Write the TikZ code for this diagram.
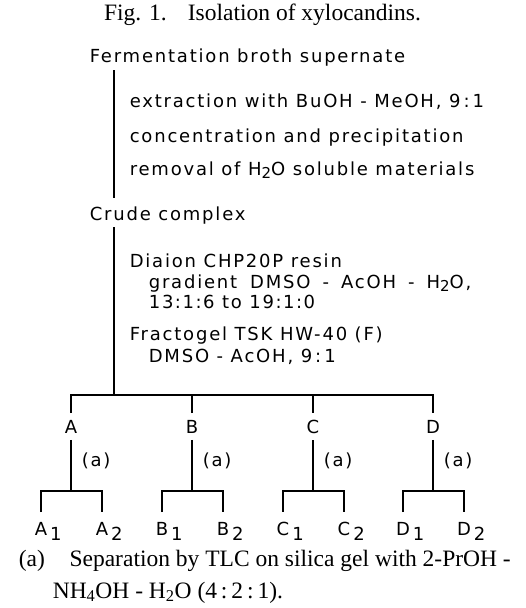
\documentclass[tikz,border=0pt]{standalone}
\usepackage{fontspec}
\setmainfont{Liberation Serif}
\newfontfamily\dg[LetterSpace=10]{DejaVu Sans}
\newcommand\lowsub[1]{\raisebox{-3pt}{\fontsize{15}{15}\selectfont #1}}
\newcommand\lowlab[1]{\rlap{\hspace{3pt}\raisebox{-5pt}{#1}}}
\newcommand\rc{\hspace{1.5pt}:\hspace{1.5pt}}
\newcommand\wdash{\hspace{12pt}-\hspace{12pt}}
\begin{document}
\begin{tikzpicture}[x=1pt,y=-1pt,line width=1.6pt,
  every node/.style={inner sep=0pt},
  dtxt/.style={font=\dg\fontsize{18}{20}\selectfont,anchor=base west},
  rtxt/.style={font=\fontsize{23.5}{26}\selectfont},
  letter/.style={font=\dg\fontsize{18}{20}\selectfont,anchor=base,inner ysep=6pt},
  sublab/.style={font=\dg\fontsize{18}{20}\selectfont,anchor=base,inner ysep=9pt},
  alab/.style={font=\dg\fontsize{18}{20}\selectfont,anchor=base west}]
\useasboundingbox (0,0) rectangle (526,608);
% title
\node[rtxt,anchor=base] (title) at (262.5,20) {Fig. 1.\hspace{0.9em}Isolation of xylocandins.};
% first stage
\node[dtxt] (ferm) at (89,62) {Fermentation broth supernate};
\node[dtxt] (ext) at (129,107) {extraction with BuOH - MeOH, 9\,:\,1};
\node[dtxt] (conc) at (129,142) {concentration and precipitation};
\node[dtxt] (rem) at (129,175) {removal of H\lowsub{2}O soluble materials};
\node[dtxt] (crude) at (89,220) {Crude complex};
\coordinate (s1top) at (114,70);
\coordinate (s1bot) at (114,198);
\draw (s1top) -- (s1bot);
% second stage
\node[dtxt] (diaion) at (129,267) {Diaion CHP20P resin};
\node[dtxt] (grad) at (148,288) {gradient\hspace{13pt}DMSO\wdash AcOH\wdash H\lowsub{2}O,};
\node[dtxt] (ratio) at (148,308) {13\rc 1\rc 6 to 19\rc 1\rc 0};
\node[dtxt] (fract) at (129,340) {Fractogel TSK HW-40 (F)};
\node[dtxt] (dmso) at (148,362) {DMSO - AcOH, 9\,:\,1};
\coordinate (s2top) at (114,227);
\coordinate (j) at (114,395);
\draw (s2top) -- (j);
% fractions
\node[letter] (A) at (71,433) {A};
\node[letter] (B) at (192,433) {B};
\node[letter] (C) at (313,433) {C};
\node[letter] (D) at (433,433) {D};
\draw (A.north) |- (j) -| (D.north);
\draw (B.north) -- (B.north |- j);
\draw (C.north) -- (C.north |- j);
\foreach \n/\x in {A/71,B/192,C/313,D/433}{
  \coordinate (\n low) at (\x,491);
  \node[sublab] (\n1) at (\x-30,535) {\n\lowlab{1}};
  \node[sublab] (\n2) at (\x+31,535) {\n\lowlab{2}};
  \node[alab] (\n a) at (\x+10,466) {(a)};
  \draw (\n.south) -- (\n low);
  \draw (\n1.north) |- (\n low) -| (\n2.north);
}
% footnote
\node[rtxt,anchor=base west] (cap1) at (18,566) {(a)\hspace{1.05em}Separation by TLC on silica gel with 2-PrOH -};
\node[rtxt,anchor=base west] (cap2) at (52,598) {NH\textsubscript{4}OH - H\textsubscript{2}O (4\,:\,2\,:\,1).};
\end{tikzpicture}
\end{document}
